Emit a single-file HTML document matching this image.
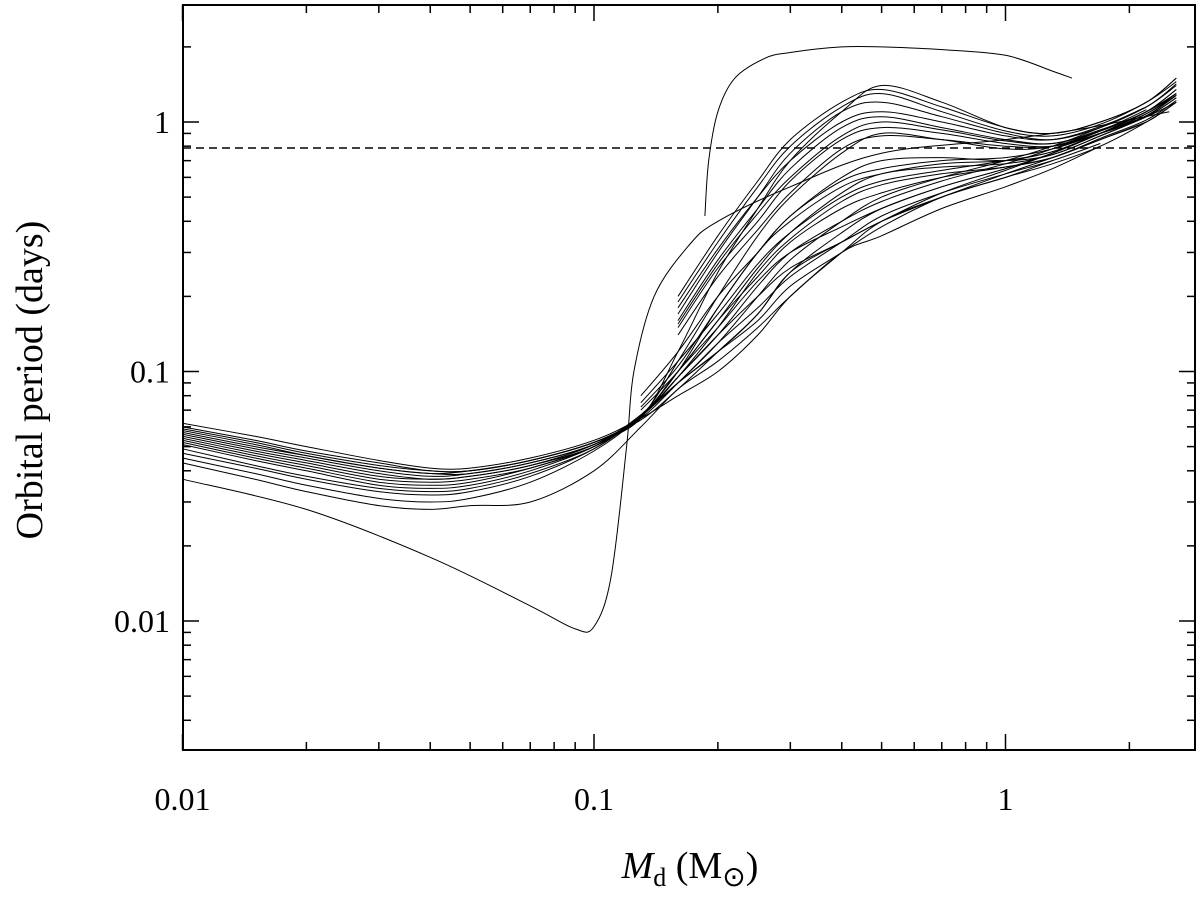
<!DOCTYPE html>
<html><head><meta charset="utf-8"><style>
html,body{margin:0;padding:0;background:#fff}
svg text{font-family:"Liberation Serif","Times New Roman",serif;fill:#000}
</style></head><body>
<svg id="chart" width="1200" height="904" viewBox="0 0 1200 904" xmlns="http://www.w3.org/2000/svg" font-family="Liberation Serif, serif">
<g id="curves"></g>
<g id="axes"></g>
<text font-family="Liberation Serif, serif" transform="translate(42,380) rotate(-90)" text-anchor="middle" font-size="38">Orbital period (days)</text>
<text font-family="Liberation Serif, serif" x="690" y="878" text-anchor="middle" font-size="38"><tspan font-style="italic">M</tspan><tspan font-size="26" dy="8">d</tspan><tspan dy="-8"> (M</tspan><tspan font-size="28" dy="8">⊙</tspan><tspan dy="-8">)</tspan></text>
</svg>
<script>
const massGrid=[0.01,0.015,0.02,0.03,0.04,0.05,0.07,0.1,0.13,0.16,0.2,0.25,0.3,0.4,0.5,0.7,1.0,1.3,1.7,2.2,2.6];
const tracks=[
[0.062,0.055,0.050,0.044,0.041,0.041,0.045,0.053,0.065,0.08,0.10,0.14,0.2,0.3,0.4,0.5,0.6,0.68,0.8,1.0,1.2],
[0.060,0.053,0.048,0.043,0.040,0.040,0.044,0.052,0.064,0.085,0.12,0.17,0.25,0.36,0.45,0.55,0.65,0.75,0.9,1.1,1.3],
[0.057,0.050,0.046,0.041,0.039,0.039,0.043,0.051,0.065,0.09,0.13,0.2,0.28,0.4,0.5,0.6,0.7,0.8,0.95,1.15,null],
[0.055,0.048,0.044,0.039,0.037,0.038,0.042,0.050,0.066,0.1,0.15,0.23,0.3,0.38,0.45,0.55,0.65,0.75,0.9,1.05,null],
[0.053,0.046,0.042,0.037,0.036,0.037,0.041,0.050,0.066,0.095,0.14,0.2,0.26,0.33,0.4,0.5,0.62,0.72,0.85,1.0,null],
[0.051,0.044,0.040,0.035,0.034,0.035,0.040,0.050,0.067,0.09,0.13,0.18,0.24,0.33,0.42,0.52,0.62,0.7,0.82,null,null],
[0.049,0.042,0.038,0.034,0.033,0.034,0.039,0.049,0.067,0.09,0.12,0.16,0.22,0.3,0.38,0.5,0.6,0.7,null,null,null],
[0.047,0.041,0.037,0.033,0.032,0.033,0.038,0.049,0.066,0.09,0.12,0.17,0.25,0.33,0.4,0.52,0.64,0.75,0.9,1.1,1.35],
[0.045,0.039,0.035,0.031,0.030,0.031,0.036,0.048,0.066,0.095,0.14,0.22,0.3,0.4,0.48,0.58,0.68,0.78,0.92,1.12,null],
[0.043,0.037,0.033,0.029,0.028,0.029,0.030,0.040,0.060,0.085,0.11,0.15,0.2,0.3,0.35,0.45,0.55,0.65,0.8,null,null],
[0.059,0.052,0.047,0.042,0.040,0.040,0.044,0.052,0.065,0.12,0.25,0.45,0.7,1.1,1.4,1.2,0.95,0.9,1.0,1.2,1.5],
[0.056,0.049,0.045,0.040,0.038,0.039,0.043,0.051,0.066,0.11,0.2,0.35,0.5,0.75,0.9,0.85,0.78,0.8,0.92,1.1,1.3],
[0.054,0.047,0.043,0.038,0.037,0.038,0.042,0.051,0.067,0.1,0.18,0.3,0.42,0.6,0.7,0.72,0.7,0.74,0.88,1.05,1.25],
[0.058,0.051,0.046,0.041,0.039,0.040,0.044,0.052,0.066,0.1,0.16,0.26,0.36,0.52,0.62,0.66,0.68,0.74,0.88,1.06,1.28],
[0.052,0.045,0.041,0.036,0.035,0.036,0.041,0.050,0.066,0.095,0.15,0.25,0.34,0.48,0.56,0.62,0.66,0.72,0.86,1.02,1.22],
[null,null,null,null,null,null,null,null,null,0.17,0.3,0.5,0.75,1.1,1.2,1.05,0.9,0.85,0.95,1.15,1.4],
[null,null,null,null,null,null,null,null,null,0.19,0.33,0.55,0.8,1.15,1.3,1.1,0.92,0.88,0.98,1.2,1.45],
[null,null,null,null,null,null,null,null,null,0.16,0.28,0.45,0.65,0.95,1.05,0.95,0.85,0.82,0.92,1.1,1.3],
[null,null,null,null,null,null,null,null,null,0.15,0.26,0.4,0.58,0.85,0.95,0.9,0.82,0.8,0.9,1.08,1.28],
[null,null,null,null,null,null,null,null,null,0.18,0.31,0.5,0.7,1.0,1.1,1.0,0.88,0.85,0.96,1.15,1.42],
[null,null,null,null,null,null,null,null,null,0.14,0.24,0.37,0.52,0.78,0.88,0.85,0.8,0.8,0.9,1.05,1.25],
[null,null,null,null,null,null,null,null,null,0.2,0.35,0.58,0.85,1.2,1.35,1.15,0.95,0.9,1.0,1.2,1.5],
[null,null,null,null,null,null,null,null,null,0.155,0.27,0.43,0.6,0.88,1.0,0.93,0.84,0.82,0.93,1.1,1.35],
[null,null,null,null,null,null,null,null,0.08,0.12,0.2,0.3,0.42,0.58,0.65,0.7,0.72,0.78,0.9,1.05,1.2],
[null,null,null,null,null,null,null,null,0.075,0.11,0.17,0.27,0.36,0.5,0.58,0.64,0.7,0.76,0.9,1.08,1.3],
[null,null,null,null,null,null,null,null,0.07,0.1,0.16,0.24,0.33,0.45,0.52,0.6,0.66,0.72,0.85,1.0,1.2],
[null,null,null,null,null,null,null,null,0.072,0.105,0.18,0.3,0.4,0.55,0.62,0.68,0.7,0.76,0.9,1.06,1.28]
];
const specialMass=[0.01,0.02,0.04,0.07,0.09,0.1,0.11,0.12,0.125,0.14,0.17,0.2,0.3,0.5,1.0,1.6,2.5];
const specialPeriod=[0.037,0.028,0.018,0.0115,0.0093,0.0095,0.015,0.05,0.1,0.2,0.32,0.4,0.55,0.75,0.85,0.95,1.1];
const topMass=[0.186,0.19,0.2,0.22,0.26,0.3,0.4,0.5,0.7,1.0,1.3,1.45];
const topPeriod=[0.42,0.7,1.1,1.5,1.8,1.9,2.0,2.0,1.95,1.85,1.6,1.5];
const dashedPeriod=0.787;
const xTickLabels=["0.01","0.1","1"];
const yTickLabels=["0.01","0.1","1"];

const L=183,R=1195,T=5,B=750;
const xs=m=>594+411.5*(Math.log10(m)+1);
const ys=p=>122-249.5*Math.log10(p);
const NS="http://www.w3.org/2000/svg";
function mk(tag,attrs,parent){const e=document.createElementNS(NS,tag);for(const k in attrs)e.setAttribute(k,attrs[k]);parent.appendChild(e);return e;}
function smooth(pts){
  if(pts.length<2)return "";
  let d="M"+pts[0][0].toFixed(1)+","+pts[0][1].toFixed(1);
  for(let i=0;i<pts.length-1;i++){
    const p0=pts[Math.max(0,i-1)],p1=pts[i],p2=pts[i+1],p3=pts[Math.min(pts.length-1,i+2)];
    const c1=[p1[0]+(p2[0]-p0[0])/6,p1[1]+(p2[1]-p0[1])/6];
    const c2=[p2[0]-(p3[0]-p1[0])/6,p2[1]-(p3[1]-p1[1])/6];
    d+="C"+c1[0].toFixed(1)+","+c1[1].toFixed(1)+" "+c2[0].toFixed(1)+","+c2[1].toFixed(1)+" "+p2[0].toFixed(1)+","+p2[1].toFixed(1);
  }
  return d;
}
const cg=document.getElementById("curves");
tracks.forEach((tr,i)=>{
  const pts=[];
  tr.forEach((p,j)=>{if(p!==null)pts.push([xs(massGrid[j]),ys(p)]);});
  const path=mk("path",{d:smooth(pts),fill:"none",stroke:"#000","stroke-width":"1"},cg);
  
  
});
{
  const pts=specialMass.map((m,i)=>[xs(m),ys(specialPeriod[i])]);
  const p=mk("path",{d:smooth(pts),fill:"none",stroke:"#000","stroke-width":"1"},cg);
  
  
  const pts2=topMass.map((m,i)=>[xs(m),ys(topPeriod[i])]);
  const p2=mk("path",{d:smooth(pts2),fill:"none",stroke:"#000","stroke-width":"1"},cg);
  
  
}
const ax=document.getElementById("axes");
const dl=mk("line",{x1:L,x2:R,y1:ys(dashedPeriod),y2:ys(dashedPeriod),stroke:"#000","stroke-width":"1.5","stroke-dasharray":"8,5"},ax);


const fr=mk("rect",{x:L,y:T,width:R-L,height:B-T,fill:"none",stroke:"#000","stroke-width":"2"},ax);


for(let dec=-2;dec<=0;dec++){
  for(let k=1;k<=9;k++){
    const m=k*Math.pow(10,dec);const x=xs(m);
    if(x<L-0.5||x>R)continue;
    const len=k===1?16:8;
    mk("line",{x1:x,x2:x,y1:B,y2:B-len,stroke:"#000","stroke-width":"1.5"},ax);
    mk("line",{x1:x,x2:x,y1:T,y2:T+len,stroke:"#000","stroke-width":"1.5"},ax);
  }
}
xTickLabels.forEach(s=>{
  const t=mk("text",{x:xs(parseFloat(s)),y:810,"text-anchor":"middle","font-size":"32","font-family":"Liberation Serif, serif"},ax);
  t.textContent=s;
  
  
});
for(let dec=-3;dec<=0;dec++){
  for(let k=1;k<=9;k++){
    const p=k*Math.pow(10,dec);const y=ys(p);
    if(y<T||y>B)continue;
    const len=k===1?16:8;
    mk("line",{x1:L,x2:L+len,y1:y,y2:y,stroke:"#000","stroke-width":"1.5"},ax);
    mk("line",{x1:R,x2:R-len,y1:y,y2:y,stroke:"#000","stroke-width":"1.5"},ax);
  }
}
yTickLabels.forEach(s=>{
  const t=mk("text",{x:170,y:ys(parseFloat(s))+11,"text-anchor":"end","font-size":"32","font-family":"Liberation Serif, serif"},ax);
  t.textContent=s;
  
  
});
</script>
</body></html>
